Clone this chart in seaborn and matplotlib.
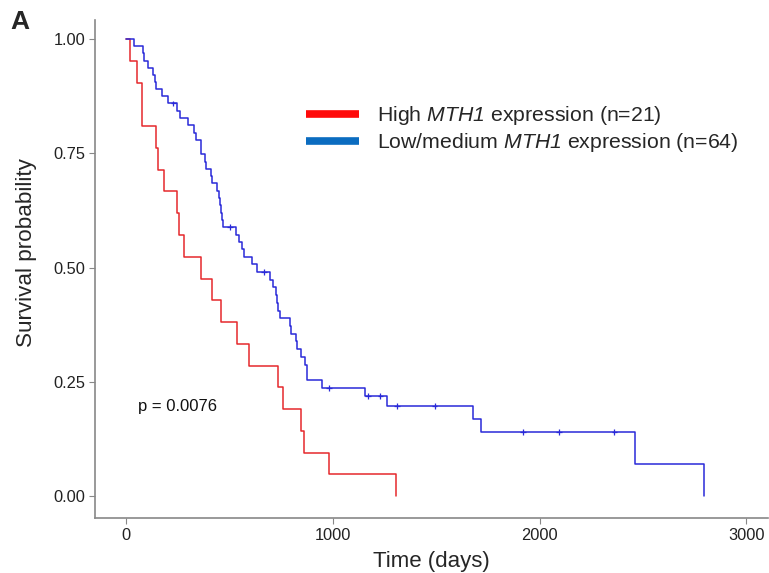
import numpy as np
import pandas as pd
import matplotlib
matplotlib.use("Agg")
import matplotlib.pyplot as plt
from matplotlib.lines import Line2D
import seaborn as sns

# -------------------------------
# Data (days)
# -------------------------------

high_death_days = [19, 55, 76, 77, 143, 156, 185, 245, 256, 282, 362, 415, 457,
                   538, 593, 734, 760, 845, 860, 984, 1304]
high_censor_days = []

low_death_days = [38, 84, 86, 108, 132, 142, 145, 172, 204,
                  248, 261, 301, 329, 338, 362, 363, 384, 386, 409, 417, 438,
                  452, 454, 460, 462, 470,
                  531, 546, 559, 572, 607, 634,
                  696, 712, 723, 731, 735, 744, 792, 800, 824, 826, 844, 865, 875, 877,
                  950, 1158, 1262, 1678, 1718, 2462, 2794]
low_censor_days = [229, 502, 667, 981, 1171, 1230, 1311, 1493, 1919, 2093, 2362]

# math "rm" is mapped to the italic face below, so the gene name (digit too) is italic
group_labels = [r"High $\mathrm{MTH1}$ expression (n=21)",
                r"Low/medium $\mathrm{MTH1}$ expression (n=64)"]
curve_colors = ["#e5282c", "#2a2ad8"]
legend_colors = ["#ff0a0a", "#0b6cc0"]

p_text = "p = 0.0076"
x_ticks = [0, 1000, 2000, 3000]
y_ticks = [0.00, 0.25, 0.50, 0.75, 1.00]


def km_curve(death_days, censor_days):
    times = np.array(death_days + censor_days, dtype=float)
    events = np.array([1] * len(death_days) + [0] * len(censor_days))
    at_risk = len(times)
    s = 1.0
    step_t, step_s = [0.0], [1.0]
    cens_t, cens_s = [], []
    for t in np.unique(times):
        d = int(((times == t) & (events == 1)).sum())
        c = int(((times == t) & (events == 0)).sum())
        if d:
            s *= 1 - d / at_risk
        step_t.append(t)
        step_s.append(s)
        if c:
            cens_t.append(t)
            cens_s.append(s)
        at_risk -= d + c
    return step_t, step_s, cens_t, cens_s


curves, censors = [], []
for label, deaths, cens in [(group_labels[0], high_death_days, high_censor_days),
                            (group_labels[1], low_death_days, low_censor_days)]:
    st, ss, ct, cs = km_curve(deaths, cens)
    curves.append(pd.DataFrame({"time": st, "surv": ss, "group": label}))
    censors.append(pd.DataFrame({"time": ct, "surv": cs, "group": label}))
curve_df = pd.concat(curves, ignore_index=True)
censor_df = pd.concat(censors, ignore_index=True)

# -------------------------------
# Plot
# -------------------------------

sns.set_style("white")
plt.rcParams["font.family"] = ["Liberation Sans", "DejaVu Sans"]
plt.rcParams["mathtext.fontset"] = "custom"
plt.rcParams["mathtext.rm"] = "Liberation Sans:italic"
plt.rcParams["mathtext.it"] = "Liberation Sans:italic"

fig = plt.figure(figsize=(7.69, 5.73), dpi=100)
ax = fig.add_axes([95 / 769, 55 / 573, 1 - 95 / 769 - 0.001, (518 - 20) / 573])

palette = dict(zip(group_labels, curve_colors))
sns.lineplot(data=curve_df, x="time", y="surv", hue="group", palette=palette,
             drawstyle="steps-post", estimator=None, lw=1.1, legend=False, ax=ax)
sns.scatterplot(data=censor_df, x="time", y="surv", hue="group", palette=palette,
                marker="+", s=16, linewidth=0.9, legend=False, ax=ax)

ax.set_xlim(-150, 3106)
ax.set_ylim(-0.048, 1.042)
ax.set_xticks(x_ticks)
ax.set_yticks(y_ticks)
ax.set_yticklabels([f"{v:.2f}" for v in y_ticks])
ax.tick_params(axis="both", which="major", direction="out", length=4, width=0.8,
               color="#888888", labelsize=11.8, labelcolor="#222222", pad=3)
ax.tick_params(left=True, bottom=True)
for side in ["top", "right"]:
    ax.spines[side].set_visible(False)
for side in ["left", "bottom"]:
    ax.spines[side].set_color("#888888")
    ax.spines[side].set_linewidth(1.2)

ax.set_xlabel("Time (days)", fontsize=16, labelpad=6)
ax.set_ylabel("Survival probability", fontsize=16.2, labelpad=12)
ax.yaxis.label.set_y(0.534)

ax.text(58, 0.195, p_text, fontsize=12, ha="left", va="center", color="#111111")

handles = [Line2D([0], [0], color=c, lw=5.5, solid_capstyle="butt") for c in legend_colors]
fig.legend(handles, group_labels, loc="upper left", bbox_to_anchor=(306 / 769, 1 - 104 / 573),
           frameon=False, fontsize=15.3, handlelength=2.5, handletextpad=0.85,
           labelspacing=0.2, borderpad=0, borderaxespad=0)

fig.text(10 / 769, 1 - 22 / 573, "A", fontsize=19, fontweight="bold", va="center", ha="left")

fig.savefig("out.png", dpi=100)
